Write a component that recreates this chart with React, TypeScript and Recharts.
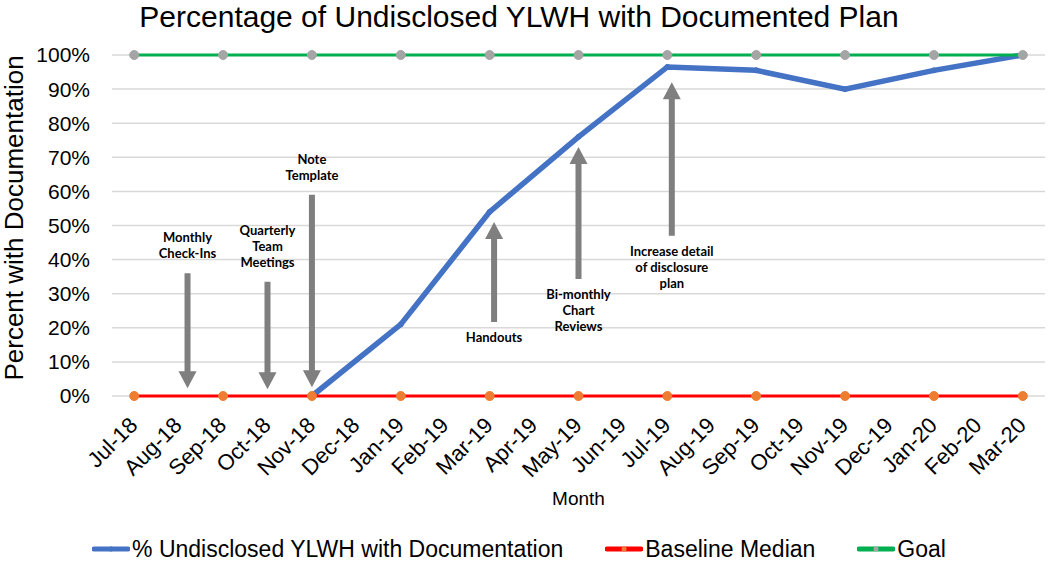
import React from 'react';
import {
  CartesianGrid,
  Legend,
  Line,
  LineChart,
  ReferenceLine,
  XAxis,
  YAxis,
} from 'recharts';

const months = [
  'Jul-18', 'Aug-18', 'Sep-18', 'Oct-18', 'Nov-18', 'Dec-18', 'Jan-19',
  'Feb-19', 'Mar-19', 'Apr-19', 'May-19', 'Jun-19', 'Jul-19', 'Aug-19',
  'Sep-19', 'Oct-19', 'Nov-19', 'Dec-19', 'Jan-20', 'Feb-20', 'Mar-20',
];

// measurements only every other month
const documented = [null, null, null, null, 0, null, 21, null, 54, null, 76, null, 96.5, null, 95.5, null, 90, null, 95.5, null, 100];
const baseline = [0, null, 0, null, 0, null, 0, null, 0, null, 0, null, 0, null, 0, null, 0, null, 0, null, 0];
const goal = [100, null, 100, null, 100, null, 100, null, 100, null, 100, null, 100, null, 100, null, 100, null, 100, null, 100];

const yTicks = [0, 10, 20, 30, 40, 50, 60, 70, 80, 90, 100];

// interventions: x = month index, arrow runs from `from` (%) to `to` (%)
const notes = [
  { lines: ['Monthly', 'Check-Ins'], x: 1.2, from: 36, to: 2.3 },
  { lines: ['Quarterly', 'Team', 'Meetings'], x: 3, from: 33.5, to: 2 },
  { lines: ['Note', 'Template'], x: 4, from: 59, to: 2.6 },
  { lines: ['Handouts'], x: 8.1, from: 21.7, to: 51 },
  { lines: ['Bi-monthly', 'Chart', 'Reviews'], x: 10, from: 34.3, to: 73 },
  { lines: ['Increase detail', 'of disclosure', 'plan'], x: 12.1, from: 47, to: 92 },
];

const SERIES = [
  { key: 'documented', name: '% Undisclosed YLWH with Documentation', stroke: '#4472c4', width: 5.5, dot: '#4472c4', r: 2.5 },
  { key: 'baseline', name: 'Baseline Median', stroke: '#ff0000', width: 3, dot: '#ed7d31', r: 4.5 },
  { key: 'goal', name: 'Goal', stroke: '#00b050', width: 3, dot: '#a5a5a5', r: 4.5 },
];

const data = months.map((m, i) => ({
  idx: i,
  month: m,
  documented: documented[i],
  baseline: baseline[i],
  goal: goal[i],
}));

const FONT = '"Liberation Sans", Arial, sans-serif';
const bounds = [...months.map((_, i) => i - 0.5), months.length - 0.5];

function MonthTick({ x, y, payload }: any) {
  return (
    <g transform={`translate(${x - 1},${y + 25})`}>
      <text x={0} y={0} dy="0.36em" textAnchor="end" transform="rotate(-45)" fontSize={22} fontFamily={FONT} fill="#000">
        {months[payload.value]}
      </text>
    </g>
  );
}

function arrowShape(lines: string[]) {
  return (p: any) => {
    const { x1, y1, y2 } = p;
    const s = y2 > y1 ? 1 : -1;
    const headLen = 17;
    const neck = y2 - s * headLen;
    const pts = [
      [x1 - 3, y1], [x1 + 3, y1], [x1 + 3, neck], [x1 + 9, neck],
      [x1, y2], [x1 - 9, neck], [x1 - 3, neck],
    ].map((q) => q.join(',')).join(' ');
    const lh = 16;
    const firstY = s > 0 ? y1 - 20 - (lines.length - 1) * lh : y1 + 15;
    return (
      <g>
        <polygon points={pts} fill="#7f7f7f" />
        {lines.map((t, i) => (
          <text key={t} x={x1} y={firstY + i * lh} textAnchor="middle" dominantBaseline="central"
            fontFamily="Lato, sans-serif" fontWeight={700} fontSize={13} fill="#000">
            {t}
          </text>
        ))}
      </g>
    );
  };
}

function LegendBox() {
  return (
    <div style={{ display: 'flex', justifyContent: 'center', gap: 42, height: 24, alignItems: 'center', fontFamily: FONT, fontSize: 23, color: '#000' }}>
      {SERIES.map((s) => (
        <div key={s.key} style={{ display: 'flex', alignItems: 'center' }}>
          <svg width={38} height={10} style={{ marginRight: 2 }}>
            <line x1={2} y1={5} x2={36} y2={5} stroke={s.stroke} strokeWidth={5} strokeLinecap="round" />
            <circle cx={19} cy={5} r={2.5} fill={s.dot} />
          </svg>
          <span>{s.name}</span>
        </div>
      ))}
    </div>
  );
}

export default function App() {
  return (
    <div style={{ position: 'absolute', left: 0, top: 0, width: 1050, height: 561, background: '#fff' }}>
      <div style={{ position: 'absolute', left: 0, top: 0, width: 1038, textAlign: 'center', fontFamily: FONT, fontSize: 30, lineHeight: '33px', color: '#000' }}>
        Percentage of Undisclosed YLWH with Documented Plan
      </div>
      <LineChart width={1050} height={561} data={data} margin={{ top: 55, right: 5, bottom: 0, left: 0 }}>
        <CartesianGrid vertical={false} stroke="#d9d9d9" strokeWidth={1.5} />
        <XAxis xAxisId="b" type="number" dataKey="idx" domain={[-0.5, months.length - 0.5]} ticks={bounds}
          tick={false} tickSize={6} height={0} axisLine={{ stroke: '#d9d9d9', strokeWidth: 1.5 }}
          tickLine={{ stroke: '#d9d9d9', strokeWidth: 1.5 }} />
        <XAxis type="number" dataKey="idx" domain={[-0.5, months.length - 0.5]} ticks={months.map((_, i) => i)}
          interval={0} tick={<MonthTick />} tickSize={0} tickMargin={0} tickLine={false} axisLine={false} height={141}
          label={{ value: 'Month', position: 'insideBottom', offset: 32, fontSize: 19, fontFamily: FONT, fill: '#000' }} />
        <YAxis domain={[0, 100]} ticks={yTicks} tickFormatter={(v) => `${v}%`} width={112} tickSize={0} tickMargin={22}
          axisLine={false} tickLine={false} tick={{ fontSize: 21, fontFamily: FONT, fill: '#000' }}
          label={{
            content: () => (
              <text x={23} y={218} transform="rotate(-90, 23, 218)" textAnchor="middle" fontSize={26} fontFamily={FONT} fill="#000">
                Percent with Documentation
              </text>
            ),
          }} />
        {SERIES.map((s) => (
          <Line key={s.key} dataKey={s.key} name={s.name} stroke={s.stroke} strokeWidth={s.width} connectNulls
            dot={{ r: s.r, fill: s.dot, stroke: s.dot, strokeWidth: 1 }} activeDot={false} isAnimationActive={false} />
        ))}
        {notes.map((n) => (
          <ReferenceLine key={n.lines.join(' ')} ifOverflow="visible"
            segment={[{ x: n.x, y: n.from }, { x: n.x, y: n.to }]} shape={arrowShape(n.lines)} />
        ))}
        <Legend verticalAlign="bottom" height={24} wrapperStyle={{ left: 0, width: 1038, bottom: 0 }} content={() => <LegendBox />} />
      </LineChart>
    </div>
  );
}
